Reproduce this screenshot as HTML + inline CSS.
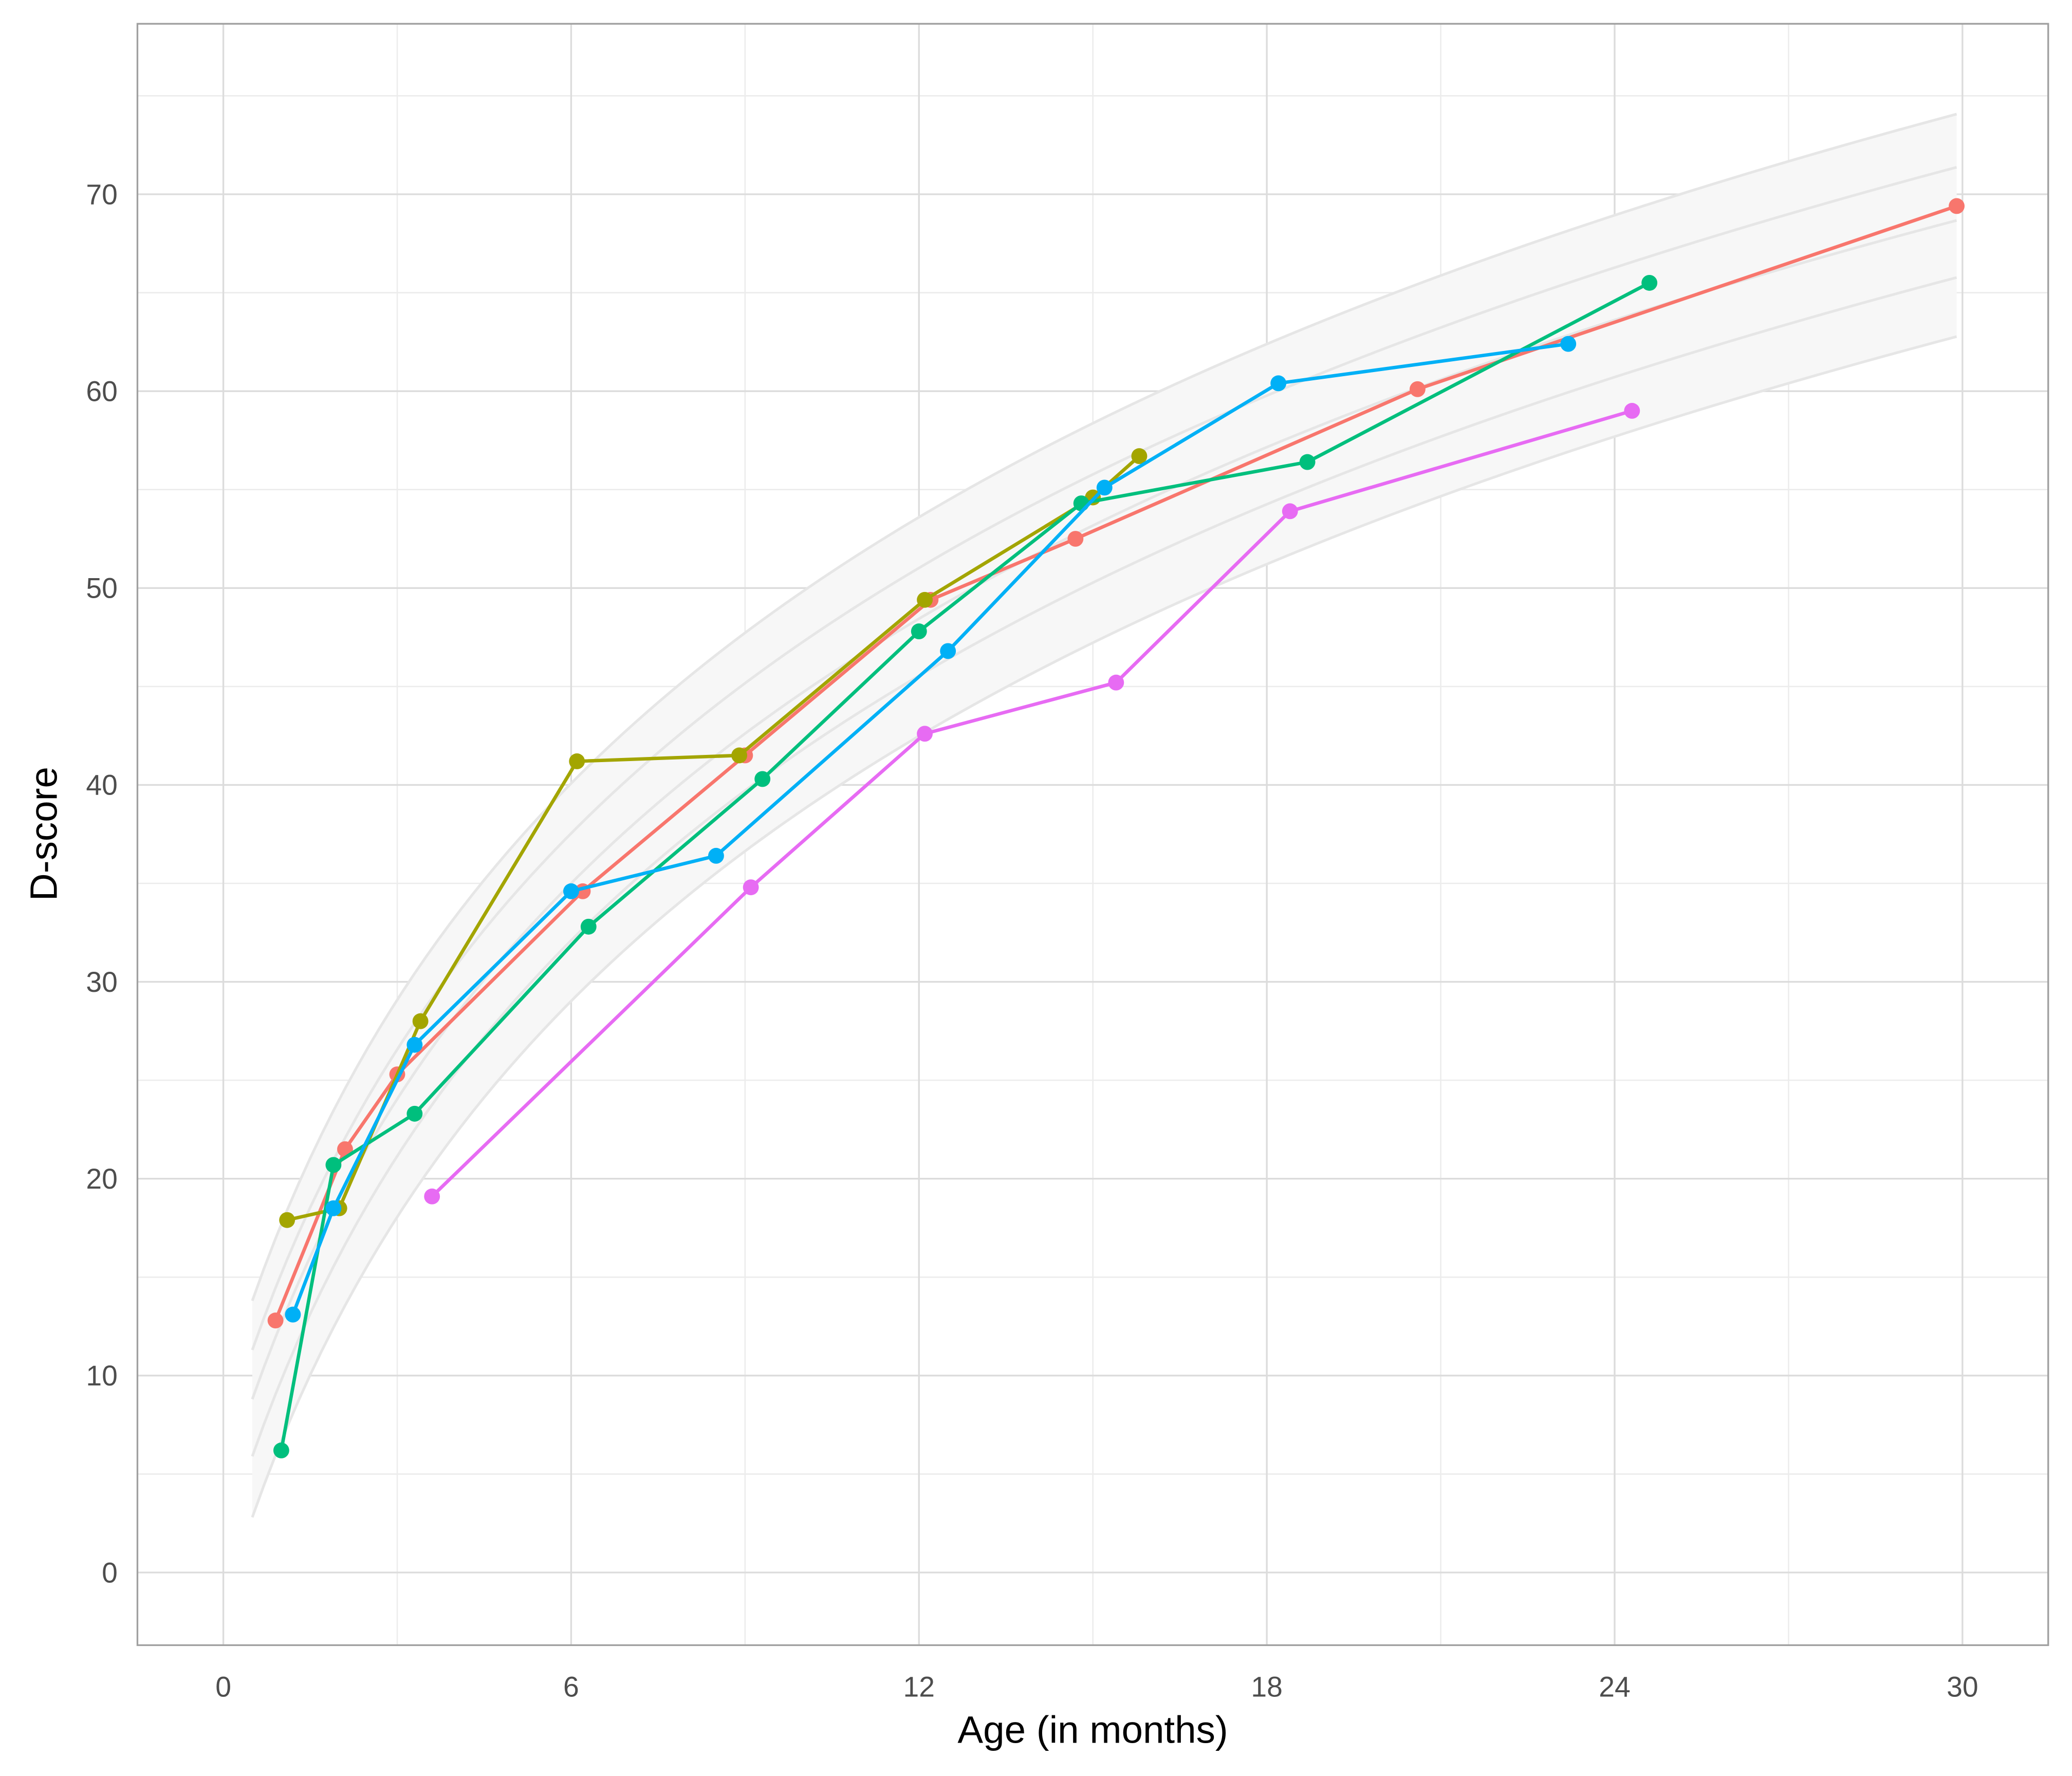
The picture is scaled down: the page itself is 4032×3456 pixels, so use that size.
<!DOCTYPE html>
<html><head><meta charset="utf-8"><style>html,body{margin:0;padding:0;background:#fff}svg{display:block}</style></head>
<body>
<svg id="s" xmlns="http://www.w3.org/2000/svg" width="4032" height="3456" viewBox="0 0 1568 1344" font-family="Liberation Sans, sans-serif"></svg>
<script>
const s=document.getElementById('s');
const X=t=>169+43.87*t, Y=d=>1190-14.9*d;
let h='<rect width="1568" height="1344" fill="#fff"/>';
const L=104,R=1550,T=18,B=1245;
for(let t=3;t<=33;t+=6){if(X(t)<R)h+=`<line x1="${X(t)}" x2="${X(t)}" y1="${T}" y2="${B}" stroke="#ececec" stroke-width="1"/>`;}
for(let d=5;d<=75;d+=10){h+=`<line x1="${L}" x2="${R}" y1="${Y(d)}" y2="${Y(d)}" stroke="#ececec" stroke-width="1"/>`;}
for(let t=0;t<=30;t+=6){h+=`<line x1="${X(t)}" x2="${X(t)}" y1="${T}" y2="${B}" stroke="#dcdcdc" stroke-width="1.3"/>`;}
for(let d=0;d<=70;d+=10){h+=`<line x1="${L}" x2="${R}" y1="${Y(d)}" y2="${Y(d)}" stroke="#dcdcdc" stroke-width="1.3"/>`;}
const m=t=>-18.84+25.16*Math.log(t+2.5);
const o0=[5,2.5,0,-2.9,-6],o1=[5.4,2.7,0,-2.9,-5.9];
const curve=k=>{let p=[];for(let t=0.5;t<=29.91;t+=0.2){const f=(t-0.5)/29.4;p.push([X(t),Y(m(t)+o0[k]*(1-f)+o1[k]*f)]);}return p;};
const cs=[0,1,2,3,4].map(curve);
h+=`<polygon points="${cs[0].concat(cs[4].slice().reverse()).map(p=>p.join(',')).join(' ')}" fill="#f7f7f7"/>`;
cs.forEach(c=>h+=`<polyline points="${c.map(p=>p.join(',')).join(' ')}" fill="none" stroke="#e6e6e6" stroke-width="2"/>`);
h+=`<rect x="${L}" y="${T}" width="${R-L}" height="${B-T}" fill="none" stroke="#a0a0a0" stroke-width="1.3"/>`;
const S=[
["#F8766D",[[0.9,12.8],[2.1,21.5],[3,25.3],[6.2,34.6],[9,41.5],[12.2,49.4],[14.7,52.5],[20.6,60.1],[29.9,69.4]]],
["#A3A500",[[1.1,17.9],[2,18.5],[3.4,28],[6.1,41.2],[8.9,41.5],[12.1,49.4],[15,54.6],[15.8,56.7]]],
["#00BF7D",[[1,6.2],[1.9,20.7],[3.3,23.3],[6.3,32.8],[9.3,40.3],[12,47.8],[14.8,54.3],[18.7,56.4],[24.6,65.5]]],
["#00B0F6",[[1.2,13.1],[1.9,18.5],[3.3,26.8],[6,34.6],[8.5,36.4],[12.5,46.8],[15.2,55.1],[18.2,60.4],[23.2,62.4]]],
["#E76BF3",[[3.6,19.1],[9.1,34.8],[12.1,42.6],[15.4,45.2],[18.4,53.9],[24.3,59]]]];
S.forEach(([c,p])=>{h+=`<polyline points="${p.map(q=>X(q[0])+','+Y(q[1])).join(' ')}" fill="none" stroke="${c}" stroke-width="2.6"/>`;p.forEach(q=>h+=`<circle cx="${X(q[0])}" cy="${Y(q[1])}" r="6" fill="${c}"/>`);});
for(let d=0;d<=70;d+=10)h+=`<text x="89" y="${Y(d)+7.5}" text-anchor="end" font-size="21.5" fill="#4d4d4d">${d}</text>`;
for(let t=0;t<=30;t+=6)h+=`<text x="${X(t)}" y="1284" text-anchor="middle" font-size="21.5" fill="#4d4d4d">${t}</text>`;
h+=`<text x="827" y="1319" text-anchor="middle" font-size="29" fill="#000">Age (in months)</text>`;
h+=`<text transform="translate(43,631) rotate(-90)" text-anchor="middle" font-size="29" fill="#000">D-score</text>`;
s.innerHTML=h;
</script>
</body></html>
